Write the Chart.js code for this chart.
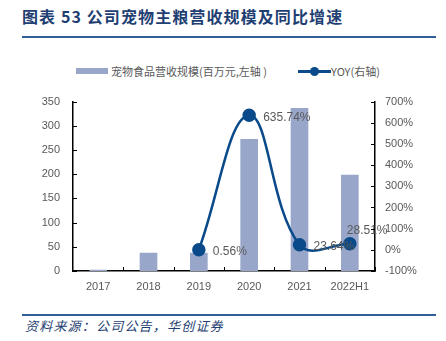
<!DOCTYPE html>
<html>
<head>
<meta charset="utf-8">
<script src="https://cdn.jsdelivr.net/npm/chart.js@4.4.0/dist/chart.umd.min.js"></script>
<style>
  body { margin: 0; background: #fff; width: 446px; height: 341px; position: relative; overflow: hidden;
         font-family: "Liberation Sans", Arial, sans-serif; }
  #title { position: absolute; left: 22px; top: 4px; font: bold 16px "Noto Sans CJK SC", sans-serif;
           color: #1F3F73; letter-spacing: 1.1px; white-space: nowrap; }
  .rule { position: absolute; left: 22px; width: 414px; height: 2px; background: #2F5D95; }
  #src { position: absolute; left: 25px; top: 316px; font: italic 13px "Noto Sans CJK SC", sans-serif;
         color: #1F3F73; letter-spacing: 1.2px; white-space: nowrap; }
  .leg { position: absolute; top: 63px; font: 11px "Noto Sans CJK SC", sans-serif; color: #595959; white-space: nowrap; }
  .sw { position: absolute; }
  #box { position: absolute; left: 0; top: 82px; width: 446px; height: 221px; }
</style>
</head>
<body>
<div id="title">图表 53 公司宠物主粮营收规模及同比增速</div>
<div class="rule" style="top:36px"></div>

<div class="sw" style="left:76px;top:68px;width:32px;height:6px;background:#98A6C9"></div>
<div class="leg" style="left:111px">宠物食品营收规模(百万元,左轴 )</div>
<div class="sw" style="left:298px;top:70px;width:33px;height:2.5px;background:#0A4A8A"></div>
<div class="sw" style="left:310px;top:67px;width:9px;height:9px;border-radius:50%;background:#0A4A8A"></div>
<div class="leg" style="left:331px">YOY(右轴)</div>

<div id="box"><canvas id="chart"></canvas></div>

<div class="rule" style="top:314px"></div>
<div id="src">资料来源：公司公告，华创证券</div>

<script>
// revenue (million yuan) and year-on-year growth (%)
const years = ["2017", "2018", "2019", "2020", "2021", "2022H1"];
const revenue = [2, 37, 37, 272, 336, 198];
const yoy = [null, null, 0.56, 635.74, 23.64, 28.51];

const BAR = "#98A6C9";
const LINE = "#0A4A8A";
const GRAY = "#595959";

// short tick marks drawn on the inner side of each axis
const innerTicks = {
  id: "innerTicks",
  afterDraw(c) {
    const ctx = c.ctx, a = c.chartArea, len = 4;
    ctx.save();
    ctx.strokeStyle = "#000";
    ctx.lineWidth = 1;
    ctx.beginPath();
    const yl = c.scales.y, yr = c.scales.y1, x = c.scales.x;
    yl.ticks.forEach(t => {
      const p = Math.round(yl.getPixelForValue(t.value)) + 0.5;
      ctx.moveTo(a.left, p); ctx.lineTo(a.left + len, p);
    });
    yr.ticks.forEach(t => {
      const p = Math.round(yr.getPixelForValue(t.value)) + 0.5;
      ctx.moveTo(a.right, p); ctx.lineTo(a.right - len, p);
    });
    const step = x.getPixelForValue(1) - x.getPixelForValue(0);
    for (let i = 0; i < years.length; i++) {
      const p = Math.round(x.getPixelForValue(i) + step / 2) + 0.5;
      ctx.moveTo(p, a.bottom); ctx.lineTo(p, a.bottom - len);
    }
    ctx.stroke();
    ctx.restore();
  }
};

// percentage labels beside the YOY points
const yoyLabels = {
  id: "yoyLabels",
  afterDatasetsDraw(c) {
    const ctx = c.ctx;
    const meta = c.getDatasetMeta(1);
    ctx.save();
    ctx.font = "12px 'Liberation Sans', Arial, sans-serif";
    ctx.fillStyle = GRAY;
    ctx.textBaseline = "middle";
    ctx.textAlign = "left";
    meta.data.forEach((pt, i) => {
      const v = yoy[i];
      if (v === null) return;
      let dx = 14, dy = 2;
      if (i === years.length - 1) { dx = -3; dy = -13; }
      ctx.fillText(v.toFixed(2) + "%", pt.x + dx, pt.y + dy);
    });
    ctx.restore();
  }
};

new Chart(document.getElementById("chart"), {
  data: {
    labels: years,
    datasets: [
      {
        type: "bar",
        label: "宠物食品营收规模(百万元,左轴 )",
        data: revenue,
        backgroundColor: BAR,
        barThickness: 17,
        yAxisID: "y",
        order: 2
      },
      {
        type: "line",
        label: "YOY(右轴)",
        data: yoy,
        borderColor: LINE,
        backgroundColor: LINE,
        borderWidth: 2.5,
        pointRadius: 5.5,
        pointHoverRadius: 5.5,
        tension: 0.4,
        yAxisID: "y1",
        order: 1
      }
    ]
  },
  options: {
    responsive: true,
    maintainAspectRatio: false,
    animation: false,
    layout: { padding: { top: 0, left: 0, right: 0, bottom: 0 } },
    plugins: { legend: { display: false }, tooltip: { enabled: false } },
    scales: {
      x: {
        offset: true,
        grid: { display: false, drawTicks: false },
        border: { color: "#000", width: 1.5 },
        ticks: { color: GRAY, font: { size: 11 }, padding: 9, maxRotation: 0 },
        afterFit: s => { s.height = 32; }
      },
      y: {
        position: "left",
        min: 0, max: 350,
        grid: { display: false, drawTicks: false },
        border: { color: "#000", width: 1.5 },
        ticks: { stepSize: 50, color: GRAY, font: { size: 11 }, padding: 13 },
        afterFit: s => { s.width = 73; }
      },
      y1: {
        position: "right",
        min: -100, max: 700,
        grid: { display: false, drawTicks: false },
        border: { color: "#000", width: 1.5 },
        ticks: { stepSize: 100, color: GRAY, font: { size: 11 }, padding: 10, callback: v => v + "%" },
        afterFit: s => { s.width = 71; }
      }
    }
  },
  plugins: [innerTicks, yoyLabels]
});
</script>
</body>
</html>
